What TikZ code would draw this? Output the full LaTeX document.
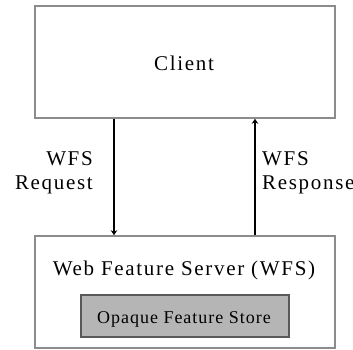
\documentclass[tikz,border=0pt]{standalone}
\usepackage{fontspec}
\setmainfont{Liberation Serif}
\newfontfamily\spacedserif{Liberation Serif}[LetterSpace=8]
\newfontfamily\storeserif{Liberation Serif}[LetterSpace=5.5]
\usetikzlibrary{arrows.meta}
\begin{document}
\begin{tikzpicture}[x=1pt,y=-1pt,
  box/.style={draw=black!45,line width=1.5pt,fill=white,inner sep=0pt},
  store/.style={draw=black!65,line width=1.2pt,fill=black!29,inner sep=0pt,minimum width=208pt,minimum height=42pt},
  lbl/.style={font=\spacedserif\fontsize{21}{24}\selectfont,inner sep=0pt,text=black},
  arr/.style={line width=2.3pt,-{Stealth[length=5pt,width=6.5pt]}}]
\useasboundingbox (0,0) rectangle (353,349);
\node[box,minimum width=300pt,minimum height=112pt] (client) at (185,62) {};
\node[box,minimum width=300pt,minimum height=112pt] (server) at (185,292) {};
\node[store] (store) at (185,316) {};
\node[lbl,anchor=base] (clienttxt) at (184,70) {Client};
\node[lbl,anchor=base] (servertxt) at (184,275) {Web Feature Server (WFS)};
\node[lbl,anchor=base,font=\storeserif\fontsize{18}{21}\selectfont] (storetxt) at (184,323) {Opaque Feature Store};
\coordinate (lx) at (114,0);
\coordinate (rx) at (255,0);
\draw[arr] (lx |- client.south) -- (lx |- server.north);
\draw[arr] (rx |- server.north) -- (rx |- client.south);
\node[lbl,anchor=base east] (req1) at (93,165) {WFS};
\node[lbl,anchor=base east] (req2) at (93,189) {Request};
\node[lbl,anchor=base west] (res1) at (262,165) {WFS};
\node[lbl,anchor=base west] (res2) at (262,189) {Response};
\end{tikzpicture}
\end{document}
